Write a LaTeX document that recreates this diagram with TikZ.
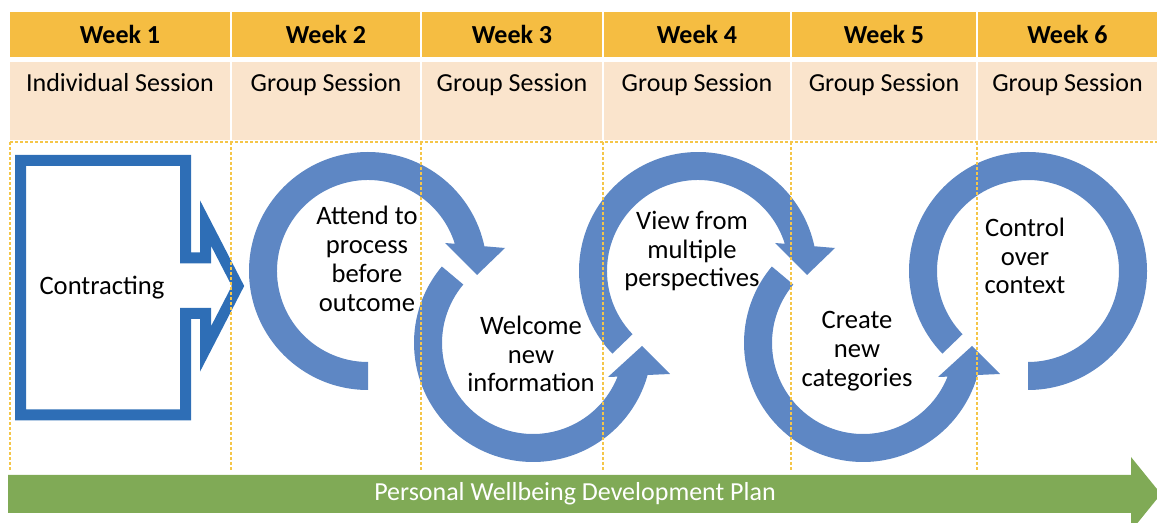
\documentclass[tikz,border=0pt]{standalone}
\usepackage{fontspec}
\setmainfont{Carlito}
\usetikzlibrary{positioning}
\usepackage{xcolor}
\definecolor{weekgold}{RGB}{245,189,66}
\definecolor{sessionpeach}{RGB}{250,228,204}
\definecolor{gridyellow}{RGB}{245,198,72}
\definecolor{loopblue}{RGB}{94,135,196}
\definecolor{contractblue}{RGB}{46,110,182}
\definecolor{plangreen}{RGB}{128,170,86}

\begin{document}
\begin{tikzpicture}[x=0.5pt, y=0.5pt,
  weekcell/.style={fill=weekgold, minimum height=22.5pt, inner sep=0pt, outer sep=0pt, font=\fontsize{13}{15}\selectfont\bfseries},
  sessioncell/.style={fill=sessionpeach, inner sep=0pt, outer sep=0pt, text height=15pt, text depth=24pt, font=\fontsize{13}{15}\selectfont},
  gridline/.style={draw=gridyellow, line width=0.7pt, dash pattern=on 1.5pt off 1pt},
  looptext/.style={align=center, font=\fontsize{13.3}{14.4}\selectfont},
  cyclearrow/.style={fill=loopblue}]

\useasboundingbox (0,0) rectangle (1157,-523);

% Week headers
\node[weekcell, minimum width=110pt, anchor=north west] (w1) at (10,-12) {Week 1};
\node[weekcell, minimum width=94pt, right=1pt of w1] (w2) {Week 2};
\node[weekcell, minimum width=90pt, right=1pt of w2] (w3) {Week 3};
\node[weekcell, minimum width=93pt, right=1pt of w3] (w4) {Week 4};
\node[weekcell, minimum width=92pt, right=1pt of w4] (w5) {Week 5};
\node[weekcell, minimum width=89.5pt, right=1pt of w5] (w6) {Week 6};

% Session types
\node[sessioncell, minimum width=110pt, below=2.5pt of w1] (s1) {Individual Session};
\node[sessioncell, minimum width=94pt, below=2.5pt of w2] (s2) {Group Session};
\node[sessioncell, minimum width=90pt, below=2.5pt of w3] (s3) {Group Session};
\node[sessioncell, minimum width=93pt, below=2.5pt of w4] (s4) {Group Session};
\node[sessioncell, minimum width=92pt, below=2.5pt of w5] (s5) {Group Session};
\node[sessioncell, minimum width=89.5pt, below=2.5pt of w6] (s6) {Group Session};

% Contracting block arrow
\draw[contractblue, line width=5.5pt, miter limit=10]
  (20.5,-160.5) -- (185.5,-160.5) -- (185.5,-258) -- (205.5,-258) -- (205.5,-223)
  -- (238,-286) -- (205.5,-349) -- (205.5,-313.5) -- (185.5,-313.5) -- (185.5,-415)
  -- (20.5,-415) -- cycle;
\node (contract) at (102,-288) [font=\fontsize{13.3}{14.4}\selectfont] {Contracting};

% Circular arrows
\begin{scope}[shift={(368,-271)}]
\fill[cyclearrow] (270:119) arc[start angle=270, end angle=12, radius=119] -- (137,23) -- (109,-4) -- (77,28)
  -- (17.4:91) arc[start angle=17.4, end angle=270, radius=91] -- cycle;
\end{scope}
\begin{scope}[shift={(533,-343)}]
\fill[cyclearrow] (140:119) arc[start angle=140, end angle=344.4, radius=119] -- (137,-31) -- (109,-3) -- (75,-34)
  -- (338.3:91) arc[start angle=338.3, end angle=140, radius=91] -- cycle;
\end{scope}
\begin{scope}[shift={(698,-271)}]
\fill[cyclearrow] (224:119) arc[start angle=224, end angle=12, radius=119] -- (137,23) -- (109,-4) -- (77,28)
  -- (17.4:91) arc[start angle=17.4, end angle=224, radius=91] -- cycle;
\end{scope}
\begin{scope}[shift={(863,-343)}]
\fill[cyclearrow] (140:119) arc[start angle=140, end angle=344.4, radius=119] -- (137,-31) -- (109,-3) -- (75,-34)
  -- (338.3:91) arc[start angle=338.3, end angle=140, radius=91] -- cycle;
\end{scope}
\begin{scope}[shift={(1028,-271)}]
\fill[cyclearrow] (-90:119) arc[start angle=-90, end angle=224, radius=119]
  -- (224:91) arc[start angle=224, end angle=-90, radius=91] -- cycle;
\end{scope}

% Loop labels
\node[looptext] (attend) at (367,-259) {Attend to\\process\\before\\outcome};
\node[looptext] (welcome) at (531,-354) {Welcome\\new\\information};
\node[looptext] (view) at (692,-251) {View from\\multiple\\perspectives};
\node[looptext] (create) at (857,-351) {Create\\new\\categories};
\node[looptext] (control) at (1025,-256) {Control\\over\\context};

% Dashed column lines
\coordinate (gridend) at (0,-470);
\draw[gridline] ([yshift=-1pt]s1.south west) -- ([yshift=-1pt]s6.south east);
\draw[gridline] ([yshift=-1pt]s1.south west) -- (s1.south west |- gridend);
\draw[gridline] ([xshift=-0.5pt,yshift=-1pt]s2.south west) -- ([xshift=-0.5pt]s2.south west |- gridend);
\draw[gridline] ([xshift=-0.5pt,yshift=-1pt]s3.south west) -- ([xshift=-0.5pt]s3.south west |- gridend);
\draw[gridline] ([xshift=-0.5pt,yshift=-1pt]s4.south west) -- ([xshift=-0.5pt]s4.south west |- gridend);
\draw[gridline] ([xshift=-0.5pt,yshift=-1pt]s5.south west) -- ([xshift=-0.5pt]s5.south west |- gridend);
\draw[gridline] ([xshift=-0.5pt,yshift=-1pt]s6.south west) -- ([xshift=-0.5pt]s6.south west |- gridend);

% Plan arrow
\fill[plangreen] (8,-475) -- (1131,-475) -- (1131,-457) -- (1161,-494) -- (1131,-531) -- (1131,-513) -- (8,-513) -- cycle;
\node[text=white, font=\fontsize{13}{15}\selectfont] (plan) at (575,-494) {Personal Wellbeing Development Plan};

\end{tikzpicture}
\end{document}
